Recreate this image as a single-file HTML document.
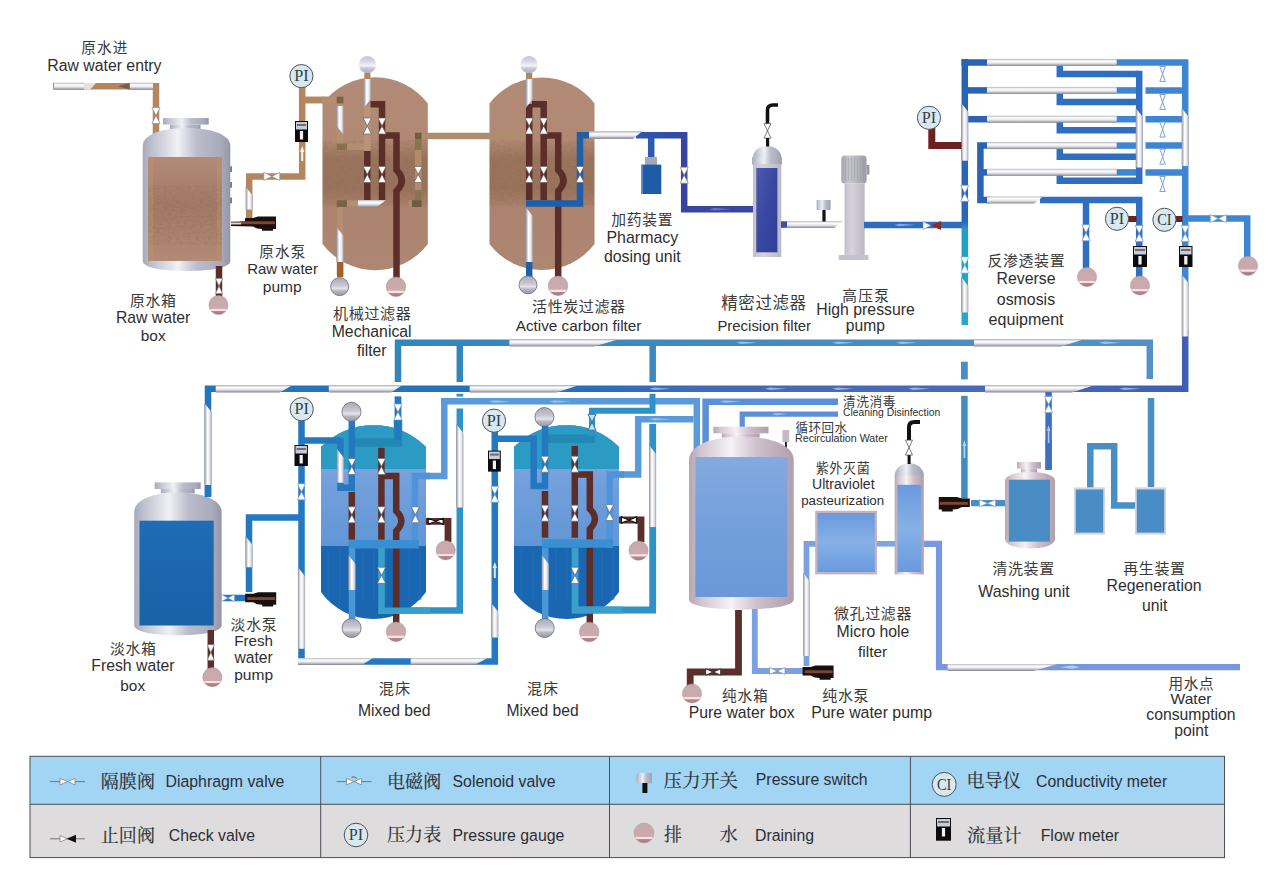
<!DOCTYPE html>
<html><head><meta charset="utf-8"><title>Water treatment process</title>
<style>html,body{margin:0;padding:0;background:#fff}svg{display:block}text{font-family:"Liberation Sans",sans-serif}text.sf{font-family:"Liberation Serif",serif}text.cj{font-family:"Liberation Sans","Noto Sans CJK SC",sans-serif}text.cs{font-family:"Liberation Serif","Noto Serif CJK SC",serif}</style></head>
<body><svg width="1269" height="887" viewBox="0 0 1269 887">
<defs>

<linearGradient id="sh" x1="0" y1="0" x2="0" y2="1"><stop offset="0" stop-color="#b4b4be"/><stop offset="0.3" stop-color="#ffffff"/><stop offset="0.6" stop-color="#e6e6ea"/><stop offset="1" stop-color="#85858f"/></linearGradient>
<linearGradient id="sv" x1="0" y1="0" x2="1" y2="0"><stop offset="0" stop-color="#8e8e9a"/><stop offset="0.4" stop-color="#ffffff"/><stop offset="0.7" stop-color="#ececf0"/><stop offset="1" stop-color="#a4a4ae"/></linearGradient>
<linearGradient id="bp" x1="0" y1="0" x2="0" y2="1"><stop offset="0" stop-color="#c6aaae"/><stop offset="0.68" stop-color="#cda9ad"/><stop offset="0.71" stop-color="#f6e4e4"/><stop offset="0.79" stop-color="#f6e4e4"/><stop offset="0.82" stop-color="#b98890"/><stop offset="1" stop-color="#a8747c"/></linearGradient>
<linearGradient id="bg" x1="0" y1="0" x2="0" y2="1"><stop offset="0" stop-color="#a9a9b6"/><stop offset="0.45" stop-color="#c9c9d4"/><stop offset="0.6" stop-color="#e4e4ea"/><stop offset="0.75" stop-color="#b5b5c0"/><stop offset="1" stop-color="#9a9aa8"/></linearGradient>
<linearGradient id="bt" x1="0" y1="0" x2="0" y2="1"><stop offset="0" stop-color="#c4c4d2"/><stop offset="0.35" stop-color="#dcdce6"/><stop offset="0.55" stop-color="#f2f2f6"/><stop offset="0.75" stop-color="#c2c2d0"/><stop offset="1" stop-color="#b0b0c0"/></linearGradient>
<linearGradient id="metal" x1="0" y1="0" x2="1" y2="0"><stop offset="0" stop-color="#a6aabc"/><stop offset="0.12" stop-color="#c0c3d0"/><stop offset="0.4" stop-color="#f0f0f5"/><stop offset="0.62" stop-color="#bcbccb"/><stop offset="0.9" stop-color="#a8aaba"/><stop offset="1" stop-color="#9496a8"/></linearGradient>
<linearGradient id="motor" x1="0" y1="0" x2="1" y2="0"><stop offset="0" stop-color="#a4a4ae"/><stop offset="0.3" stop-color="#c6c6ce"/><stop offset="0.6" stop-color="#b8b8c0"/><stop offset="1" stop-color="#9c9ca6"/></linearGradient>
<linearGradient id="metalf" x1="0" y1="0" x2="1" y2="0"><stop offset="0" stop-color="#c2bfcb"/><stop offset="0.35" stop-color="#d6d3dd"/><stop offset="1" stop-color="#bcb8c5"/></linearGradient>
<linearGradient id="pfb" x1="0" y1="0" x2="1" y2="1"><stop offset="0" stop-color="#4a5aac"/><stop offset="0.5" stop-color="#3848a0"/><stop offset="1" stop-color="#303e98"/></linearGradient>
<linearGradient id="metalp" x1="0" y1="0" x2="1" y2="0"><stop offset="0" stop-color="#b6a6b2"/><stop offset="0.12" stop-color="#d2c6d0"/><stop offset="0.4" stop-color="#f6f2f6"/><stop offset="0.65" stop-color="#cdc0cc"/><stop offset="1" stop-color="#b09eac"/></linearGradient>
<linearGradient id="brownv" x1="0" y1="0" x2="0" y2="1"><stop offset="0" stop-color="#b28b78"/><stop offset="0.33" stop-color="#b08873"/><stop offset="0.42" stop-color="#9a745e"/><stop offset="0.58" stop-color="#99735d"/><stop offset="0.68" stop-color="#ab836e"/><stop offset="1" stop-color="#ae8772"/></linearGradient>
<linearGradient id="brownt" x1="0" y1="0" x2="0" y2="1"><stop offset="0" stop-color="#b38a78"/><stop offset="0.45" stop-color="#a27a68"/><stop offset="0.6" stop-color="#a67e6a"/><stop offset="1" stop-color="#b28a76"/></linearGradient>
<linearGradient id="fresh" x1="0" y1="0" x2="0" y2="1"><stop offset="0" stop-color="#1f6db6"/><stop offset="0.5" stop-color="#1b66ae"/><stop offset="1" stop-color="#1a62a8"/></linearGradient>
<linearGradient id="pure" x1="0" y1="0" x2="0" y2="1"><stop offset="0" stop-color="#84aadf"/><stop offset="0.5" stop-color="#739fdb"/><stop offset="1" stop-color="#6a98d8"/></linearGradient>
<linearGradient id="uv" x1="0" y1="0" x2="0" y2="1"><stop offset="0" stop-color="#6a9ade"/><stop offset="0.5" stop-color="#86b0e6"/><stop offset="1" stop-color="#6a9ade"/></linearGradient>
<linearGradient id="l2" gradientUnits="userSpaceOnUse" x1="205" y1="0" x2="1190" y2="0"><stop offset="0" stop-color="#2274bc"/><stop offset="0.4" stop-color="#2a6eba"/><stop offset="0.5" stop-color="#4269ba"/><stop offset="0.8" stop-color="#4a68bc"/><stop offset="1" stop-color="#3e5eb4"/></linearGradient>
<linearGradient id="l1" gradientUnits="userSpaceOnUse" x1="395" y1="0" x2="1153" y2="0"><stop offset="0" stop-color="#3286bc"/><stop offset="0.5" stop-color="#468abf"/><stop offset="1" stop-color="#5590c6"/></linearGradient>
<linearGradient id="navy" gradientUnits="userSpaceOnUse" x1="642" y1="132" x2="753" y2="212"><stop offset="0" stop-color="#2a58ae"/><stop offset="0.35" stop-color="#38449f"/><stop offset="1" stop-color="#3c46a2"/></linearGradient>
<linearGradient id="rofeed" gradientUnits="userSpaceOnUse" x1="0" y1="59" x2="0" y2="330"><stop offset="0" stop-color="#2a62b4"/><stop offset="0.6" stop-color="#2a66b8"/><stop offset="0.63" stop-color="#1fa0c6"/><stop offset="1" stop-color="#27a8cc"/></linearGradient>
<linearGradient id="mbmid" x1="0" y1="0" x2="0" y2="1"><stop offset="0" stop-color="#88acdf"/><stop offset="0.5" stop-color="#729fdb"/><stop offset="1" stop-color="#6196d6"/></linearGradient>
<filter id="tex" x="0" y="0" width="1" height="1"><feTurbulence type="fractalNoise" baseFrequency="0.25 0.5" numOctaves="2" seed="3"/><feColorMatrix values="0 0 0 0 0.25  0 0 0 0 0.12  0 0 0 0 0.05  0.9 0 0 0 -0.32"/><feComposite in2="SourceGraphic" operator="in"/></filter>

</defs>
<rect width="1269" height="887" fill="#fff"/>
<polyline points="398.0,382.0 398.0,342.8 1149.8,342.8 1149.8,379.0" fill="none" stroke="url(#l1)" stroke-width="6.5" />
<polyline points="459.8,342.0 459.8,382.0" fill="none" stroke="#3286bc" stroke-width="6.5" />
<polyline points="652.7,342.0 652.7,382.0" fill="none" stroke="#3a88be" stroke-width="6.5" />
<polygon points="509.4,339.2 618.5,339.2 594.5,346.4 509.4,346.4" fill="url(#sh)"/>
<polygon points="974.0,339.2 1084.0,339.2 1061.0,346.4 974.0,346.4" fill="url(#sh)"/>
<polyline points="208.0,496.0 208.0,388.8 1185.2,388.8 1185.2,330.0" fill="none" stroke="url(#l2)" stroke-width="6.5" />
<polygon points="215.7,385.2 292.0,385.2 280.0,392.4 215.7,392.4" fill="url(#sh)"/>
<polygon points="328.8,385.2 402.0,385.2 391.0,392.4 328.8,392.4" fill="url(#sh)"/>
<polygon points="469.7,385.2 578.5,385.2 556.5,392.4 469.7,392.4" fill="url(#sh)"/>
<polygon points="985.0,385.2 1094.0,385.2 1072.0,392.4 985.0,392.4" fill="url(#sh)"/>
<polygon points="204.4,403.0 211.6,412.0 211.6,485.0 204.4,485.0" fill="url(#sv)"/>
<polyline points="398.0,396.6 398.0,446.0" fill="none" stroke="#2478c0" stroke-width="6.5" />
<rect x="456.5" y="393.8" width="6.7" height="2.8" fill="#2f92c6" />
<polyline points="459.8,408.6 459.8,610.5 381.5,610.5 381.5,548.0" fill="none" stroke="#2f92c6" stroke-width="6.5" />
<polygon points="456.2,424.0 463.4,433.0 463.4,507.4 456.2,507.4" fill="url(#sv)"/>
<rect x="961.0" y="361.7" width="6.8" height="17.7" fill="#4a8cc8" />
<polyline points="964.4,395.8 964.4,498.7" fill="none" stroke="#418dc2" stroke-width="6.5" />
<polyline points="1151.0,398.0 1151.0,487.0" fill="none" stroke="#4a8fc4" stroke-width="6.5" />
<polyline points="1048.6,392.0 1048.6,469.6" fill="none" stroke="#3f6fc0" stroke-width="6.5" />
<path d="M1044.5,396.6 L1052.7,396.6 L1048.6,404.6 Z M1044.5,412.6 L1052.7,412.6 L1048.6,404.6 Z" fill="#fff" stroke="#7aa0d0" stroke-width="0.7"/>
<polyline points="415.0,548.0 415.0,476.0 444.3,476.0 444.3,401.3 696.8,401.3 696.8,456.0" fill="none" stroke="#5a9ad8" stroke-width="6.5" />
<polyline points="609.8,548.0 609.8,474.5 638.2,474.5 638.2,419.3 693.5,419.3" fill="none" stroke="#5a9ad8" stroke-width="6.5" />
<polyline points="705.6,447.0 705.6,401.8 838.0,401.8" fill="none" stroke="#5b8fd8" stroke-width="6.5" />
<polyline points="742.2,428.0 742.2,414.1 838.0,414.1" fill="none" stroke="#5b8fd8" stroke-width="5.2" />
<polyline points="53.0,86.2 156.0,86.2 156.0,136.0" fill="none" stroke="#b4865e" stroke-width="6.5" />
<rect x="54.0" y="82.7" width="30.0" height="7.1" fill="url(#sh)" />
<rect x="129.6" y="82.7" width="23.4" height="7.1" fill="url(#sh)" />
<polygon points="84,83 96,83 90,89.4 84,89.4" fill="#e8e0dc"/><polygon points="118,86.2 129.6,83 129.6,89.4" fill="#7a5a48"/>
<path d="M151.9,107.6 L160.1,107.6 L156.0,115.6 Z M151.9,123.6 L160.1,123.6 L156.0,115.6 Z" fill="#fff" stroke="#8a8a8a" stroke-width="0.7"/>
<rect x="226.0" y="166.3" width="6.0" height="5.7" fill="#7a7a84" />
<rect x="226.0" y="182.0" width="6.0" height="5.7" fill="#7a7a84" />
<rect x="226.0" y="197.5" width="6.0" height="5.7" fill="#7a7a84" />
<rect x="163.0" y="118.0" width="45.7" height="6.6" fill="url(#metal)" />
<rect x="170.0" y="124.6" width="30.5" height="4.4" fill="url(#metal)" />
<path d="M142.7,146.0 C142.7,134.3 162.4,128.0 186.5,128.0 C210.6,128.0 230.3,134.3 230.3,146.0 L230.3,261.0 C230.3,268.0 208.4,271.0 186.5,271.0 C164.6,271.0 142.7,268.0 142.7,261.0 Z" fill="url(#metal)"/>
<rect x="148.0" y="157.0" width="74.0" height="104.0" fill="url(#brownt)" />
<rect x="148.0" y="157.0" width="5.0" height="104.0" fill="#c09070" opacity="0.5"/>
<rect x="217.0" y="157.0" width="5.0" height="104.0" fill="#c09070" opacity="0.5"/>
<rect x="148" y="185" width="74" height="60" fill="#5a3020" filter="url(#tex)" opacity="0.6"/>
<polyline points="219.0,266.0 219.0,297.0" fill="none" stroke="#5b2e2a" stroke-width="6.5" />
<path d="M215.5,278.5 L222.5,278.5 L219.0,286.0 Z M215.5,293.5 L222.5,293.5 L219.0,286.0 Z" fill="#fff" stroke="#8a8a8a" stroke-width="0.7"/>
<circle cx="218.5" cy="305.0" r="9.6" fill="url(#bp)" stroke="#a89498" stroke-width="0.5"/>
<polyline points="249.2,218.0 249.2,176.4 302.2,176.4 302.2,87.0" fill="none" stroke="#b4865e" stroke-width="6.5" />
<polygon points="245.6,186.7 252.8,195.7 252.8,209.4 245.6,209.4" fill="url(#sv)"/>
<path d="M263.8,172.3 L263.8,180.5 L271.8,176.4 Z M279.8,172.3 L279.8,180.5 L271.8,176.4 Z" fill="#fff" stroke="#8a8a8a" stroke-width="0.7"/>
<path d="M302.2,146 L304.4,152 L303.2,152 L303.2,161 L301.2,161 L301.2,152 L300,152 Z" fill="#fff" opacity="0.9"/>
<polygon points="231.0,221.8 245.0,221.5 245.0,218.0 253.0,218.0 258.0,216.5 276.0,216.5 276.0,229.0 273.0,229.0 273.0,230.8 262.0,230.8 262.0,229.0 257.0,228.5 253.0,226.5 231.0,226.0" fill="#1a0f0f"/>
<rect x="240.0" y="221.3" width="35.0" height="2.9" fill="#7e4630" />
<rect x="231.0" y="222.5" width="10.0" height="2.0" fill="#e8d8d0" />
<polyline points="302.2,100.0 343.2,100.0" fill="none" stroke="#b4865e" stroke-width="6.5" />
<circle cx="301.4" cy="76.1" r="11.6" fill="#d9e8ef" stroke="#4a545e" stroke-width="1"/>
<text x="301.4" y="81.3" class="sf" font-size="16" text-anchor="middle" fill="#333c44" textLength="14.4" lengthAdjust="spacingAndGlyphs">PI</text>
<rect x="295.0" y="121.0" width="13.0" height="21.0" fill="#0b0b0f" />
<rect x="296.0" y="122.0" width="11.0" height="7.5" fill="#c9ccd2" />
<rect x="297.0" y="124.0" width="9.0" height="2.0" fill="#6a6e78" />
<rect x="299.9" y="131.0" width="3.2" height="8.5" fill="#f2f2f2" />
<path d="M322.5,103.5 A66,66 0 0 1 427.8,103.5 L427.8,244 A66,66 0 0 1 322.5,244 Z" fill="url(#brownv)"/>
<rect x="322.5" y="140" width="105.30000000000001" height="65" fill="#4a2818" filter="url(#tex)" opacity="0.55"/>
<path d="M489.5,103.5 A66,66 0 0 1 594.5,103.5 L594.5,244 A66,66 0 0 1 489.5,244 Z" fill="url(#brownv)"/>
<rect x="489.5" y="140" width="105.0" height="65" fill="#4a2818" filter="url(#tex)" opacity="0.55"/>
<polyline points="302.0,100.0 325.0,100.0" fill="none" stroke="#b4865e" stroke-width="6.5" />
<polyline points="322.0,100.0 340.0,100.0 340.0,146.8 370.6,146.8" fill="none" stroke="#b48d72" stroke-width="6.5" />
<rect x="336.7" y="96.7" width="6.7" height="6.6" fill="#7a6248" />
<rect x="336.7" y="143.5" width="10.3" height="6.5" fill="#8a7050" />
<polygon points="336.4,106.0 343.6,106.0 343.6,134.7 336.4,125.7" fill="url(#sv)"/>
<polyline points="367.3,107.0 367.3,151.0" fill="none" stroke="#b89478" stroke-width="6.5" />
<circle cx="367.5" cy="64.7" r="8.6" fill="url(#bt)"/>
<rect x="364.3" y="73.0" width="6.1" height="6.0" fill="#b4865e" />
<polygon points="363.8,79.0 370.9,79.0 370.9,99.0 363.8,108.0" fill="url(#sv)"/>
<polyline points="367.3,151.0 367.3,200.0" fill="none" stroke="#5b2e2a" stroke-width="6.5" />
<polyline points="370.6,104.2 382.0,104.2 382.0,200.0" fill="none" stroke="#5b2e2a" stroke-width="6.5" />
<path d="M382,135.5 H396.5 V170 Q407,180.5 396.5,191 V278" fill="none" stroke="#5b2e2a" stroke-width="6.5"/>
<polyline points="340.0,275.0 340.0,203.5 358.0,203.5" fill="none" stroke="#b48d72" stroke-width="6.5" />
<rect x="336.7" y="200.2" width="10.3" height="6.8" fill="#7a6248" />
<polygon points="358.0,199.9 386.0,199.9 377.0,207.1 358.0,207.1" fill="url(#sh)"/>
<polygon points="336.4,227.0 343.6,236.0 343.6,262.0 336.4,262.0" fill="url(#sv)"/>
<rect x="337.0" y="262.0" width="6.3" height="15.0" fill="#a0622c" />
<polyline points="526.0,136.0 418.2,136.0 418.2,203.5 408.7,203.5" fill="none" stroke="#b08c6e" stroke-width="6.5" />
<rect x="415.0" y="132.7" width="6.5" height="6.6" fill="#6e5c40" />
<rect x="412.0" y="200.2" width="9.5" height="6.8" fill="#6e5c40" />
<rect x="415.0" y="139.3" width="6.5" height="10.7" fill="#8a744e" />
<rect x="415.0" y="190.0" width="6.5" height="10.2" fill="#8a744e" />
<path d="M363.2,118.0 L371.4,118.0 L367.3,126.0 Z M363.2,134.0 L371.4,134.0 L367.3,126.0 Z" fill="#fff" stroke="#6a5a50" stroke-width="0.7"/>
<path d="M377.9,118.0 L386.1,118.0 L382.0,126.0 Z M377.9,134.0 L386.1,134.0 L382.0,126.0 Z" fill="#fff" stroke="#6a5a50" stroke-width="0.7"/>
<path d="M363.2,166.4 L371.4,166.4 L367.3,174.4 Z M363.2,182.4 L371.4,182.4 L367.3,174.4 Z" fill="#fff" stroke="#6a5a50" stroke-width="0.7"/>
<path d="M377.9,166.4 L386.1,166.4 L382.0,174.4 Z M377.9,182.4 L386.1,182.4 L382.0,174.4 Z" fill="#fff" stroke="#6a5a50" stroke-width="0.7"/>
<path d="M414.1,166.4 L422.3,166.4 L418.2,174.4 Z M414.1,182.4 L422.3,182.4 L418.2,174.4 Z" fill="#fff" stroke="#6a5a50" stroke-width="0.7"/>
<circle cx="339.7" cy="286.6" r="9" fill="url(#bg)" stroke="#6a6a78" stroke-width="0.8"/>
<circle cx="396.0" cy="286.8" r="9.8" fill="url(#bp)" stroke="#a89498" stroke-width="0.5"/>
<circle cx="529.0" cy="64.7" r="8.6" fill="url(#bt)"/>
<rect x="526.0" y="73.0" width="6.3" height="6.0" fill="#b4865e" />
<polyline points="529.2,104.0 529.2,200.0" fill="none" stroke="#5b2e2a" stroke-width="6.5" />
<polygon points="525.7,79.0 532.8,79.0 532.8,99.0 525.7,108.0" fill="url(#sv)"/>
<polyline points="532.0,104.2 543.7,104.2 543.7,200.0" fill="none" stroke="#5b2e2a" stroke-width="6.5" />
<path d="M543.7,135.5 H558.2 V170 Q568.7,180.5 558.2,191 V278" fill="none" stroke="#5b2e2a" stroke-width="6.5"/>
<polyline points="526.0,203.5 580.0,203.5 580.0,135.3 590.0,135.3" fill="none" stroke="#1f5ea8" stroke-width="6.5" />
<polygon points="525.7,207.0 532.8,216.0 532.8,262.0 525.7,262.0" fill="url(#sv)"/>
<rect x="526.0" y="262.0" width="6.4" height="15.0" fill="#1f5ea8" />
<path d="M525.1,118.0 L533.3,118.0 L529.2,126.0 Z M525.1,134.0 L533.3,134.0 L529.2,126.0 Z" fill="#fff" stroke="#6a5a50" stroke-width="0.7"/>
<path d="M539.6,118.0 L547.8,118.0 L543.7,126.0 Z M539.6,134.0 L547.8,134.0 L543.7,126.0 Z" fill="#fff" stroke="#6a5a50" stroke-width="0.7"/>
<path d="M525.1,166.4 L533.3,166.4 L529.2,174.4 Z M525.1,182.4 L533.3,182.4 L529.2,174.4 Z" fill="#fff" stroke="#6a5a50" stroke-width="0.7"/>
<path d="M539.6,166.4 L547.8,166.4 L543.7,174.4 Z M539.6,182.4 L547.8,182.4 L543.7,174.4 Z" fill="#fff" stroke="#6a5a50" stroke-width="0.7"/>
<path d="M575.9,166.4 L584.1,166.4 L580.0,174.4 Z M575.9,182.4 L584.1,182.4 L580.0,174.4 Z" fill="#fff" stroke="#6a5a50" stroke-width="0.7"/>
<circle cx="528.0" cy="284.8" r="9" fill="url(#bg)" stroke="#6a6a78" stroke-width="0.8"/>
<circle cx="558.0" cy="285.8" r="9.8" fill="url(#bp)" stroke="#a89498" stroke-width="0.5"/>
<polygon points="589.0,131.6 642.0,131.6 633.0,138.8 589.0,138.8" fill="url(#sh)"/>
<polyline points="636.0,135.2 684.2,135.2 684.2,209.2 754.0,209.2" fill="none" stroke="url(#navy)" stroke-width="6.5" />
<polygon points="589.0,131.6 642.0,131.6 633.0,138.8 589.0,138.8" fill="url(#sh)"/>
<polyline points="651.2,138.0 651.2,158.0" fill="none" stroke="#2a5cb0" stroke-width="6.5" />
<rect x="645.0" y="157.0" width="12.0" height="8.0" fill="#a8a8b4" />
<rect x="641.4" y="164.6" width="19.9" height="29.4" fill="#1f5ca8" />
<rect x="641.4" y="164.6" width="1.6" height="29.4" fill="#5a8ac8" />
<path d="M680.1,167.2 L688.3,167.2 L684.2,175.2 Z M680.1,183.2 L688.3,183.2 L684.2,175.2 Z" fill="#fff" stroke="#8a8a8a" stroke-width="0.7"/>
<path d="M753,158 C753,150 760,146 767,146 C774,146 781.3,150 781.3,158 Z" fill="url(#metal)"/>
<rect x="752.0" y="157.3" width="29.8" height="7.2" fill="url(#metal)" />
<rect x="753.0" y="164.0" width="28.3" height="93.0" fill="url(#metalf)" />
<rect x="756.3" y="168.0" width="21.1" height="84.3" fill="url(#pfb)" />
<path d="M767.5,124 L767.5,110 Q767.5,105 773,105 L778,105" fill="none" stroke="#111" stroke-width="3.6"/>
<rect x="766.0" y="138.0" width="3.2" height="8.5" fill="#111" />
<path d="M764.0,123.6 L771.0,123.6 L767.5,130.8 Z M764.0,138.1 L771.0,138.1 L767.5,130.8 Z" fill="#fff" stroke="#444" stroke-width="0.7"/>
<rect x="781.0" y="221.3" width="7.0" height="6.5" fill="#3a50a8" />
<polygon points="787.0,220.9 843.0,220.9 834.0,228.1 787.0,228.1" fill="url(#sh)"/>
<rect x="822.4" y="209.0" width="3.2" height="12.5" fill="#111" />
<rect x="816.6" y="200.0" width="13.9" height="10.0" fill="url(#metal)" />
<rect x="841.3" y="155.4" width="25.3" height="28.0" fill="url(#motor)" rx="3.5"/>
<rect x="866.6" y="165.0" width="2.8" height="9.6" fill="#9a9aa4" />
<rect x="844.5" y="183.4" width="20.2" height="72.6" fill="url(#metalf)" />
<rect x="838.8" y="255.0" width="29.7" height="5.0" fill="#c4c0cc" />
<rect x="845.0" y="158.0" width="0.7" height="23.0" fill="#8c8c96" opacity="0.45"/>
<rect x="848.0" y="158.0" width="0.7" height="23.0" fill="#8c8c96" opacity="0.45"/>
<rect x="851.0" y="158.0" width="0.7" height="23.0" fill="#8c8c96" opacity="0.45"/>
<rect x="854.0" y="158.0" width="0.7" height="23.0" fill="#8c8c96" opacity="0.45"/>
<rect x="857.0" y="158.0" width="0.7" height="23.0" fill="#8c8c96" opacity="0.45"/>
<rect x="860.0" y="158.0" width="0.7" height="23.0" fill="#8c8c96" opacity="0.45"/>
<rect x="863.0" y="158.0" width="0.7" height="23.0" fill="#8c8c96" opacity="0.45"/>
<polyline points="864.0,225.0 962.0,225.0" fill="none" stroke="#2f6cc0" stroke-width="6.5" />
<polygon points="923,221.5 923,229.5 931,225.5" fill="#fff" stroke="#888" stroke-width="0.6"/><polygon points="941,221 941,230 931,225.5" fill="#8a2a2a"/>
<polyline points="964.8,330.0 964.8,62.4 1185.2,62.4 1185.2,335.0" fill="none" stroke="none" stroke-width="6.5" />
<polyline points="1116.0,62.4 1185.2,62.4 1185.2,286.0" fill="none" stroke="#3f86d2" stroke-width="6.5" />
<polyline points="1116.0,90.4 1137.0,90.4" fill="none" stroke="#3f86d2" stroke-width="6.5" />
<polyline points="1145.5,90.4 1183.0,90.4" fill="none" stroke="#3f86d2" stroke-width="6.5" />
<polyline points="1116.0,119.2 1137.0,119.2" fill="none" stroke="#3f86d2" stroke-width="6.5" />
<polyline points="1145.5,119.2 1183.0,119.2" fill="none" stroke="#3f86d2" stroke-width="6.5" />
<polyline points="1116.0,145.6 1137.0,145.6" fill="none" stroke="#3f86d2" stroke-width="6.5" />
<polyline points="1145.5,145.6 1183.0,145.6" fill="none" stroke="#3f86d2" stroke-width="6.5" />
<polyline points="1116.0,172.4 1137.0,172.4" fill="none" stroke="#3f86d2" stroke-width="6.5" />
<polyline points="1145.5,172.4 1183.0,172.4" fill="none" stroke="#3f86d2" stroke-width="6.5" />
<polyline points="964.8,325.0 964.8,62.4 990.0,62.4" fill="none" stroke="url(#rofeed)" stroke-width="6.5" />
<rect x="961.5" y="59.1" width="6.5" height="6.9" fill="#2a62b4" />
<polyline points="968.0,90.4 990.0,90.4" fill="none" stroke="#2b62b4" stroke-width="6.5" />
<polyline points="968.0,119.2 990.0,119.2" fill="none" stroke="#2b62b4" stroke-width="6.5" />
<polyline points="990.0,145.6 980.4,145.6 980.4,200.0 990.0,200.0" fill="none" stroke="#2b62b4" stroke-width="6.5" />
<polyline points="980.4,172.4 990.0,172.4" fill="none" stroke="#2b62b4" stroke-width="6.5" />
<polyline points="1059.8,62.4 1059.8,74.1 1139.2,74.1" fill="none" stroke="#2f6ec0" stroke-width="6.5" />
<polyline points="1059.8,90.4 1059.8,101.9 1139.2,101.9" fill="none" stroke="#2f6ec0" stroke-width="6.5" />
<polyline points="1059.8,119.2 1059.8,130.2 1139.2,130.2" fill="none" stroke="#2f6ec0" stroke-width="6.5" />
<polyline points="1059.8,145.6 1059.8,156.8 1139.2,156.8" fill="none" stroke="#2f6ec0" stroke-width="6.5" />
<polyline points="1059.8,172.4 1059.8,180.8 1139.2,180.8" fill="none" stroke="#2f6ec0" stroke-width="6.5" />
<polyline points="1139.2,70.8 1139.2,184.0" fill="none" stroke="#2f6ec0" stroke-width="6.5" />
<polyline points="1040.0,200.0 1139.2,200.0 1139.2,278.0" fill="none" stroke="#2f6ec0" stroke-width="6.5" />
<polyline points="1086.0,203.0 1086.0,268.0" fill="none" stroke="#2f6ec0" stroke-width="6.5" />
<rect x="987.0" y="58.9" width="129.7" height="7.1" fill="url(#sh)" />
<rect x="987.0" y="86.9" width="129.7" height="7.1" fill="url(#sh)" />
<rect x="987.0" y="115.7" width="129.7" height="7.1" fill="url(#sh)" />
<rect x="987.0" y="142.0" width="129.7" height="7.1" fill="url(#sh)" />
<rect x="987.0" y="168.8" width="129.7" height="7.1" fill="url(#sh)" />
<polygon points="987.0,196.4 1043.0,196.4 1034.0,203.6 987.0,203.6" fill="url(#sh)"/>
<polygon points="961.2,103.0 968.3,112.0 968.3,160.7 961.2,160.7" fill="url(#sv)"/>
<polygon points="1135.7,108.0 1142.8,117.0 1142.8,167.5 1135.7,167.5" fill="url(#sv)"/>
<polygon points="1181.7,108.0 1188.8,117.0 1188.8,166.0 1181.7,166.0" fill="url(#sv)"/>
<polygon points="961.2,277.0 968.3,286.0 968.3,312.5 961.2,312.5" fill="url(#sv)"/>
<polygon points="1181.7,274.6 1188.8,283.6 1188.8,336.5 1181.7,336.5" fill="url(#sv)"/>
<path d="M1159.8,66.5 L1165.3,66.5 L1162.6,74.0 Z M1159.8,81.5 L1165.3,81.5 L1162.6,74.0 Z" fill="#f4f8fc" stroke="#7a9ac8" stroke-width="0.9"/>
<path d="M1159.8,94.5 L1165.3,94.5 L1162.6,102.0 Z M1159.8,109.5 L1165.3,109.5 L1162.6,102.0 Z" fill="#f4f8fc" stroke="#7a9ac8" stroke-width="0.9"/>
<path d="M1159.8,122.1 L1165.3,122.1 L1162.6,129.6 Z M1159.8,137.1 L1165.3,137.1 L1162.6,129.6 Z" fill="#f4f8fc" stroke="#7a9ac8" stroke-width="0.9"/>
<path d="M1159.8,149.2 L1165.3,149.2 L1162.6,156.7 Z M1159.8,164.2 L1165.3,164.2 L1162.6,156.7 Z" fill="#f4f8fc" stroke="#7a9ac8" stroke-width="0.9"/>
<path d="M1159.8,176.5 L1165.3,176.5 L1162.6,184.0 Z M1159.8,191.5 L1165.3,191.5 L1162.6,184.0 Z" fill="#f4f8fc" stroke="#7a9ac8" stroke-width="0.9"/>
<polyline points="931.8,128.0 931.8,145.6 961.5,145.6" fill="none" stroke="#6c2020" stroke-width="7" />
<circle cx="929.0" cy="117.8" r="11.6" fill="#d9e8ef" stroke="#4a545e" stroke-width="1"/>
<text x="929.0" y="123.0" class="sf" font-size="16" text-anchor="middle" fill="#333c44" textLength="14.4" lengthAdjust="spacingAndGlyphs">PI</text>
<path d="M960.7,185.3 L968.9,185.3 L964.8,193.3 Z M960.7,201.3 L968.9,201.3 L964.8,193.3 Z" fill="#fff" stroke="#7a9ac8" stroke-width="0.7"/>
<path d="M960.7,257.0 L968.9,257.0 L964.8,265.0 Z M960.7,273.0 L968.9,273.0 L964.8,265.0 Z" fill="#fff" stroke="#7ac0d8" stroke-width="0.7"/>
<rect x="1128.0" y="216.0" width="8.5" height="6.0" fill="#6c2020" />
<circle cx="1117.0" cy="218.8" r="11.6" fill="#d9e8ef" stroke="#4a545e" stroke-width="1"/>
<text x="1117.0" y="224.0" class="sf" font-size="16" text-anchor="middle" fill="#333c44" textLength="14.4" lengthAdjust="spacingAndGlyphs">PI</text>
<rect x="1175.5" y="216.0" width="7.0" height="6.0" fill="#6c2020" />
<circle cx="1164.4" cy="219.8" r="11.6" fill="#d9e8ef" stroke="#4a545e" stroke-width="1"/>
<text x="1164.4" y="225.0" class="sf" font-size="16" text-anchor="middle" fill="#333c44" textLength="14.4" lengthAdjust="spacingAndGlyphs">CI</text>
<polyline points="1188.0,218.6 1247.2,218.6 1247.2,258.0" fill="none" stroke="#3f86d2" stroke-width="6.5" />
<path d="M1210.3,214.5 L1210.3,222.7 L1218.3,218.6 Z M1226.3,214.5 L1226.3,222.7 L1218.3,218.6 Z" fill="#fff" stroke="#7a9ac8" stroke-width="0.7"/>
<path d="M1081.9,224.8 L1090.1,224.8 L1086.0,232.8 Z M1081.9,240.8 L1090.1,240.8 L1086.0,232.8 Z" fill="#fff" stroke="#7a9ac8" stroke-width="0.7"/>
<path d="M1135.1,225.4 L1143.3,225.4 L1139.2,233.4 Z M1135.1,241.4 L1143.3,241.4 L1139.2,233.4 Z" fill="#fff" stroke="#7a9ac8" stroke-width="0.7"/>
<path d="M1181.1,225.4 L1189.3,225.4 L1185.2,233.4 Z M1181.1,241.4 L1189.3,241.4 L1185.2,233.4 Z" fill="#fff" stroke="#7a9ac8" stroke-width="0.7"/>
<rect x="1133.0" y="246.0" width="14.0" height="21.0" fill="#0b0b0f" />
<rect x="1134.0" y="247.0" width="12.0" height="7.5" fill="#c9ccd2" />
<rect x="1135.0" y="249.0" width="10.0" height="2.0" fill="#6a6e78" />
<rect x="1138.4" y="256.0" width="3.2" height="8.5" fill="#f2f2f2" />
<rect x="1179.0" y="246.0" width="13.5" height="21.0" fill="#0b0b0f" />
<rect x="1180.0" y="247.0" width="11.5" height="7.5" fill="#c9ccd2" />
<rect x="1181.0" y="249.0" width="9.5" height="2.0" fill="#6a6e78" />
<rect x="1184.2" y="256.0" width="3.2" height="8.5" fill="#f2f2f2" />
<circle cx="1087.0" cy="277.0" r="9.6" fill="url(#bp)" stroke="#a89498" stroke-width="0.5"/>
<circle cx="1140.0" cy="285.5" r="9.6" fill="url(#bp)" stroke="#a89498" stroke-width="0.5"/>
<circle cx="1248.0" cy="265.8" r="9.6" fill="url(#bp)" stroke="#a89498" stroke-width="0.5"/>
<rect x="154.7" y="482.4" width="46.0" height="6.6" fill="url(#metal)" />
<rect x="160.8" y="489.0" width="33.9" height="4.4" fill="url(#metal)" />
<path d="M134.2,512.0 C134.2,499.3 153.9,492.4 177.9,492.4 C201.9,492.4 221.6,499.3 221.6,512.0 L221.6,625.2 C221.6,632.2 199.8,635.2 177.9,635.2 C156.0,635.2 134.2,632.2 134.2,625.2 Z" fill="url(#metal)"/>
<rect x="139.5" y="520.7" width="74.2" height="104.8" fill="url(#fresh)" />
<polyline points="208.0,486.0 208.0,497.0" fill="none" stroke="#2478c0" stroke-width="6.5" />
<polyline points="223.0,598.0 249.0,598.0" fill="none" stroke="#2478c0" stroke-width="6.5" />
<polyline points="249.0,592.0 249.0,517.4 301.5,517.4" fill="none" stroke="#2478c0" stroke-width="6.5" />
<polygon points="245.4,536.0 252.6,545.0 252.6,567.3 245.4,567.3" fill="url(#sv)"/>
<path d="M221.5,594.5 L221.5,601.5 L228.0,598.0 Z M234.5,594.5 L234.5,601.5 L228.0,598.0 Z" fill="#fff" stroke="#7a9ac8" stroke-width="0.7"/>
<polygon points="245.2,593.8 253.2,593.8 258.2,592.3 276.2,592.3 276.2,604.8 273.2,604.8 273.2,606.6 262.2,606.6 262.2,604.8 257.2,604.3 253.2,602.3 245.2,602.3" fill="#1a0f0f"/>
<rect x="247.2" y="597.1" width="28.0" height="2.9" fill="#7e4630" />
<polyline points="210.8,630.0 210.8,669.0" fill="none" stroke="#5b2e2a" stroke-width="6.5" />
<path d="M207.3,644.8 L214.3,644.8 L210.8,652.5 Z M207.3,660.2 L214.3,660.2 L210.8,652.5 Z" fill="#fff" stroke="#8a8a8a" stroke-width="0.7"/>
<circle cx="212.3" cy="677.2" r="9.6" fill="url(#bp)" stroke="#a89498" stroke-width="0.5"/>
<path d="M321,447 A74,74 0 0 1 426,447 L426,592 A64.5,64.5 0 0 1 321,592 Z" fill="#1a66b0"/>
<path d="M321,447 A74,74 0 0 1 426,447 L426,546 L321,546 Z" fill="url(#mbmid)"/>
<path d="M321,447 A74,74 0 0 1 426,447 L426,469 L321,469 Z" fill="#2b9bc4"/>
<rect x="327.0" y="550.0" width="2.5" height="50.0" fill="#1f70ba" opacity="0.5"/>
<rect x="338.5" y="550.0" width="2.5" height="50.0" fill="#1f70ba" opacity="0.5"/>
<rect x="350.0" y="550.0" width="2.5" height="50.0" fill="#1f70ba" opacity="0.5"/>
<rect x="361.5" y="550.0" width="2.5" height="50.0" fill="#1f70ba" opacity="0.5"/>
<rect x="373.0" y="550.0" width="2.5" height="50.0" fill="#1f70ba" opacity="0.5"/>
<rect x="384.5" y="550.0" width="2.5" height="50.0" fill="#1f70ba" opacity="0.5"/>
<rect x="396.0" y="550.0" width="2.5" height="50.0" fill="#1f70ba" opacity="0.5"/>
<rect x="407.5" y="550.0" width="2.5" height="50.0" fill="#1f70ba" opacity="0.5"/>
<rect x="419.0" y="550.0" width="2.5" height="50.0" fill="#1f70ba" opacity="0.5"/>
<path d="M514,447 A74,74 0 0 1 619,447 L619,592 A64.5,64.5 0 0 1 514,592 Z" fill="#1a66b0"/>
<path d="M514,447 A74,74 0 0 1 619,447 L619,546 L514,546 Z" fill="url(#mbmid)"/>
<path d="M514,447 A74,74 0 0 1 619,447 L619,469 L514,469 Z" fill="#2b9bc4"/>
<rect x="520.0" y="550.0" width="2.5" height="50.0" fill="#1f70ba" opacity="0.5"/>
<rect x="531.5" y="550.0" width="2.5" height="50.0" fill="#1f70ba" opacity="0.5"/>
<rect x="543.0" y="550.0" width="2.5" height="50.0" fill="#1f70ba" opacity="0.5"/>
<rect x="554.5" y="550.0" width="2.5" height="50.0" fill="#1f70ba" opacity="0.5"/>
<rect x="566.0" y="550.0" width="2.5" height="50.0" fill="#1f70ba" opacity="0.5"/>
<rect x="577.5" y="550.0" width="2.5" height="50.0" fill="#1f70ba" opacity="0.5"/>
<rect x="589.0" y="550.0" width="2.5" height="50.0" fill="#1f70ba" opacity="0.5"/>
<rect x="600.5" y="550.0" width="2.5" height="50.0" fill="#1f70ba" opacity="0.5"/>
<rect x="612.0" y="550.0" width="2.5" height="50.0" fill="#1f70ba" opacity="0.5"/>
<polyline points="301.5,421.0 301.5,661.5 494.8,661.5 494.8,432.0" fill="none" stroke="#2478c0" stroke-width="6.5" />
<polyline points="301.5,440.4 340.4,440.4" fill="none" stroke="#2478c0" stroke-width="6.5" />
<polygon points="297.9,567.3 305.1,576.3 305.1,648.8 297.9,648.8" fill="url(#sv)"/>
<polygon points="298.0,657.9 372.8,657.9 361.8,664.9 298.0,664.9" fill="url(#sh)"/>
<polygon points="410.7,657.9 487.5,657.9 474.5,664.9 410.7,664.9" fill="url(#sh)"/>
<polygon points="491.2,603.0 498.4,612.0 498.4,637.4 491.2,637.4" fill="url(#sv)"/>
<path d="M494.8,562 L497,568 L495.8,568 L495.8,578 L493.8,578 L493.8,568 L492.6,568 Z" fill="#dfe8f4"/>
<circle cx="301.7" cy="409.2" r="11.6" fill="#d9e8ef" stroke="#4a545e" stroke-width="1"/>
<text x="301.7" y="414.4" class="sf" font-size="16" text-anchor="middle" fill="#333c44" textLength="14.4" lengthAdjust="spacingAndGlyphs">PI</text>
<rect x="294.5" y="445.0" width="13.4" height="21.0" fill="#0b0b0f" />
<rect x="295.5" y="446.0" width="11.4" height="7.5" fill="#c9ccd2" />
<rect x="296.5" y="448.0" width="9.4" height="2.0" fill="#6a6e78" />
<rect x="299.6" y="455.0" width="3.2" height="8.5" fill="#f2f2f2" />
<path d="M297.4,483.8 L305.6,483.8 L301.5,491.8 Z M297.4,499.8 L305.6,499.8 L301.5,491.8 Z" fill="#fff" stroke="#7a9ac8" stroke-width="0.7"/>
<circle cx="494.0" cy="420.7" r="11.6" fill="#d9e8ef" stroke="#4a545e" stroke-width="1"/>
<text x="494.0" y="425.9" class="sf" font-size="16" text-anchor="middle" fill="#333c44" textLength="14.4" lengthAdjust="spacingAndGlyphs">PI</text>
<rect x="488.0" y="450.6" width="12.8" height="21.0" fill="#0b0b0f" />
<rect x="489.0" y="451.6" width="10.8" height="7.5" fill="#c9ccd2" />
<rect x="490.0" y="453.6" width="8.8" height="2.0" fill="#6a6e78" />
<rect x="492.8" y="460.6" width="3.2" height="8.5" fill="#f2f2f2" />
<path d="M490.7,486.3 L498.9,486.3 L494.8,494.3 Z M490.7,502.3 L498.9,502.3 L494.8,494.3 Z" fill="#fff" stroke="#7a9ac8" stroke-width="0.7"/>
<polyline points="351.8,442.5 398.0,442.5 398.0,420.0" fill="none" stroke="#2389b4" stroke-width="8.5" />
<rect x="394.8" y="396.6" width="6.4" height="43.4" fill="#2478c0" />
<path d="M393.9,404.0 L402.1,404.0 L398.0,412.0 Z M393.9,420.0 L402.1,420.0 L398.0,412.0 Z" fill="#fff" stroke="#7a9ac8" stroke-width="0.7"/>
<circle cx="351.5" cy="411.8" r="9.5" fill="url(#bg)" stroke="#6a6a78" stroke-width="0.8"/>
<polyline points="415.0,548.0 415.0,476.0 430.0,476.0" fill="none" stroke="#4f94da" stroke-width="6.5" />
<polyline points="609.8,548.0 609.8,474.5 624.0,474.5" fill="none" stroke="#4f94da" stroke-width="6.5" />
<polyline points="351.8,421.0 351.8,491.0" fill="none" stroke="#2478c0" stroke-width="6.5" />
<polyline points="340.4,438.0 340.4,487.7 355.0,487.7" fill="none" stroke="#2478c0" stroke-width="6.5" />
<polygon points="336.8,448.7 343.9,457.7 343.9,482.8 336.8,482.8" fill="url(#sv)"/>
<polyline points="351.8,492.0 351.8,539.6" fill="none" stroke="#5b2e2a" stroke-width="6.5" />
<polyline points="381.4,447.8 381.4,539.6" fill="none" stroke="#5b2e2a" stroke-width="6.5" />
<path d="M384,476 H396.2 V511 Q406.5,521 396.2,531 V624" fill="none" stroke="#5b2e2a" stroke-width="6.5"/>
<polyline points="348.8,544.2 418.9,544.2" fill="none" stroke="#3a8fd2" stroke-width="8.4" />
<polyline points="352.0,548.0 352.0,619.0" fill="none" stroke="#4a96d6" stroke-width="6.5" />
<polygon points="348.4,555.0 355.6,564.0 355.6,590.0 348.4,590.0" fill="url(#sv)"/>
<polyline points="381.5,548.0 381.5,610.8 430.0,610.8" fill="none" stroke="#3a9fca" stroke-width="6.6" />
<path d="M347.7,458.5 L355.9,458.5 L351.8,466.5 Z M347.7,474.5 L355.9,474.5 L351.8,466.5 Z" fill="#fff" stroke="#5a6a80" stroke-width="0.7"/>
<path d="M377.3,458.5 L385.5,458.5 L381.4,466.5 Z M377.3,474.5 L385.5,474.5 L381.4,466.5 Z" fill="#fff" stroke="#5a6a80" stroke-width="0.7"/>
<path d="M347.7,506.8 L355.9,506.8 L351.8,514.8 Z M347.7,522.8 L355.9,522.8 L351.8,514.8 Z" fill="#fff" stroke="#5a6a80" stroke-width="0.7"/>
<path d="M377.3,506.8 L385.5,506.8 L381.4,514.8 Z M377.3,522.8 L385.5,522.8 L381.4,514.8 Z" fill="#fff" stroke="#5a6a80" stroke-width="0.7"/>
<path d="M411.3,506.8 L419.5,506.8 L415.4,514.8 Z M411.3,522.8 L419.5,522.8 L415.4,514.8 Z" fill="#fff" stroke="#5a6a80" stroke-width="0.7"/>
<path d="M377.4,567.3 L385.6,567.3 L381.5,575.3 Z M377.4,583.3 L385.6,583.3 L381.5,575.3 Z" fill="#fff" stroke="#5a6a80" stroke-width="0.7"/>
<polyline points="425.8,521.3 448.0,521.3 448.0,542.0" fill="none" stroke="#5b2e2a" stroke-width="6.8" />
<path d="M428.2,518.3 L428.2,524.3 L435.7,521.3 Z M443.2,518.3 L443.2,524.3 L435.7,521.3 Z" fill="#fff" stroke="#111" stroke-width="1.2"/>
<circle cx="445.7" cy="550.3" r="9.6" fill="url(#bp)" stroke="#a89498" stroke-width="0.5"/>
<circle cx="351.6" cy="628.0" r="9.5" fill="url(#bg)" stroke="#6a6a78" stroke-width="0.8"/>
<circle cx="396.0" cy="631.8" r="9.8" fill="url(#bp)" stroke="#a89498" stroke-width="0.5"/>
<polyline points="545.0,438.7 595.2,438.7" fill="none" stroke="#2389b4" stroke-width="8.5" />
<polyline points="592.0,436.0 592.0,410.8 652.5,410.8 652.5,393.8" fill="none" stroke="#2f92c6" stroke-width="6" />
<path d="M587.9,414.2 L596.1,414.2 L592.0,422.2 Z M587.9,430.2 L596.1,430.2 L592.0,422.2 Z" fill="#bfe0ee" stroke="#2f6ea8" stroke-width="1"/>
<circle cx="544.4" cy="417.0" r="9.5" fill="url(#bg)" stroke="#6a6a78" stroke-width="0.8"/>
<polyline points="494.8,438.8 533.7,438.8 533.7,486.1 548.0,486.1" fill="none" stroke="#2478c0" stroke-width="6.5" />
<polyline points="545.0,426.0 545.0,489.0" fill="none" stroke="#2478c0" stroke-width="6.5" />
<polyline points="545.0,491.0 545.0,537.7" fill="none" stroke="#5b2e2a" stroke-width="6.5" />
<polyline points="574.8,445.9 574.8,537.7" fill="none" stroke="#5b2e2a" stroke-width="6.5" />
<path d="M578,474.5 H589.8 V509 Q600,519 589.8,529 V624" fill="none" stroke="#5b2e2a" stroke-width="6.5"/>
<polyline points="541.9,543.5 612.9,543.5" fill="none" stroke="#3a8fd2" stroke-width="8.6" />
<polyline points="545.2,548.0 545.2,619.0" fill="none" stroke="#4a96d6" stroke-width="6.5" />
<polygon points="541.7,555.0 548.8,564.0 548.8,590.0 541.7,590.0" fill="url(#sv)"/>
<polyline points="575.0,610.0 652.7,610.0 652.7,424.0" fill="none" stroke="#2f92c6" stroke-width="6.8" />
<polyline points="575.0,548.0 575.0,610.0 622.0,610.0" fill="none" stroke="#3a9fca" stroke-width="6.8" />
<polygon points="649.0,445.0 656.0,454.0 656.0,527.0 649.0,527.0" fill="url(#sv)"/>
<path d="M540.9,456.2 L549.1,456.2 L545.0,464.2 Z M540.9,472.2 L549.1,472.2 L545.0,464.2 Z" fill="#fff" stroke="#5a6a80" stroke-width="0.7"/>
<path d="M570.7,456.2 L578.9,456.2 L574.8,464.2 Z M570.7,472.2 L578.9,472.2 L574.8,464.2 Z" fill="#fff" stroke="#5a6a80" stroke-width="0.7"/>
<path d="M540.9,505.2 L549.1,505.2 L545.0,513.2 Z M540.9,521.2 L549.1,521.2 L545.0,513.2 Z" fill="#fff" stroke="#5a6a80" stroke-width="0.7"/>
<path d="M570.7,505.2 L578.9,505.2 L574.8,513.2 Z M570.7,521.2 L578.9,521.2 L574.8,513.2 Z" fill="#fff" stroke="#5a6a80" stroke-width="0.7"/>
<path d="M605.5,504.6 L613.7,504.6 L609.6,512.6 Z M605.5,520.6 L613.7,520.6 L609.6,512.6 Z" fill="#fff" stroke="#5a6a80" stroke-width="0.7"/>
<path d="M570.9,567.3 L579.1,567.3 L575.0,575.3 Z M570.9,583.3 L579.1,583.3 L575.0,575.3 Z" fill="#fff" stroke="#5a6a80" stroke-width="0.7"/>
<polyline points="619.0,520.0 641.0,520.0 641.0,542.0" fill="none" stroke="#5b2e2a" stroke-width="6.8" />
<path d="M621.5,517.0 L621.5,523.0 L629.0,520.0 Z M636.5,517.0 L636.5,523.0 L629.0,520.0 Z" fill="#fff" stroke="#111" stroke-width="1.2"/>
<circle cx="638.5" cy="550.6" r="9.6" fill="url(#bp)" stroke="#a89498" stroke-width="0.5"/>
<circle cx="544.7" cy="628.0" r="9.5" fill="url(#bg)" stroke="#6a6a78" stroke-width="0.8"/>
<circle cx="589.2" cy="632.0" r="9.8" fill="url(#bp)" stroke="#a89498" stroke-width="0.5"/>
<rect x="782.4" y="430.0" width="6.8" height="12.0" fill="#c4bcc4" />
<rect x="785.0" y="442.0" width="1.8" height="9.0" fill="#111" />
<rect x="713.4" y="426.7" width="55.1" height="6.6" fill="url(#metalp)" />
<rect x="721.8" y="433.3" width="37.8" height="4.4" fill="url(#metalp)" />
<path d="M689.0,460.0 C689.0,444.9 712.6,436.7 741.4,436.7 C770.1,436.7 793.7,444.9 793.7,460.0 L793.7,599.5 C793.7,606.5 767.5,609.5 741.4,609.5 C715.2,609.5 689.0,606.5 689.0,599.5 Z" fill="url(#metalp)"/>
<rect x="695.3" y="457.0" width="92.1" height="140.0" fill="url(#pure)" />
<polyline points="738.5,610.0 738.5,672.0 690.2,672.0 690.2,687.0" fill="none" stroke="#5b2e2a" stroke-width="6.8" />
<path d="M705.7,668.8 L705.7,675.2 L713.2,672.0 Z M720.7,668.8 L720.7,675.2 L713.2,672.0 Z" fill="#fff" stroke="#333" stroke-width="1"/>
<circle cx="692.0" cy="693.5" r="9.6" fill="url(#bp)" stroke="#a89498" stroke-width="0.5"/>
<polyline points="754.8,609.0 754.8,671.0 804.0,671.0" fill="none" stroke="#7aa2e0" stroke-width="5.8" />
<path d="M769.5,667.5 L769.5,674.5 L777.2,671.0 Z M785.0,667.5 L785.0,674.5 L777.2,671.0 Z" fill="#fff" stroke="#8a8a8a" stroke-width="0.7"/>
<polyline points="806.5,666.0 806.5,543.8 816.0,543.8" fill="none" stroke="#7aa2e0" stroke-width="5.8" />
<polygon points="803.2,572.8 809.8,581.8 809.8,656.0 803.2,656.0" fill="url(#sv)"/>
<polygon points="802.6,667.0 810.6,667.0 815.6,665.5 833.6,665.5 833.6,678.0 830.6,678.0 830.6,679.8 819.6,679.8 819.6,678.0 814.6,677.5 810.6,675.5 802.6,675.5" fill="#1a0f0f"/>
<rect x="804.6" y="670.3" width="28.0" height="2.9" fill="#7e4630" />
<rect x="815.2" y="510.8" width="61.8" height="63.6" fill="#c4b4c0" />
<rect x="817.5" y="513.0" width="57.3" height="59.0" fill="url(#uv)" />
<polyline points="877.0,543.8 895.0,543.8" fill="none" stroke="#7aa6e2" stroke-width="5.6" />
<path d="M894.7,476 C894.7,468 902,463.3 909.2,463.3 C916.5,463.3 923.8,468 923.8,476 Z" fill="url(#metal)"/>
<rect x="894.7" y="475.5" width="29.1" height="8.5" fill="url(#metalp)" />
<rect x="894.7" y="483.5" width="29.1" height="90.9" fill="url(#metalp)" />
<rect x="897.3" y="484.8" width="24.0" height="87.2" fill="url(#uv)" />
<path d="M909,440 L909,427 Q909,422 914.5,422 L920,422" fill="none" stroke="#111" stroke-width="4"/>
<rect x="907.6" y="455.0" width="3.0" height="9.0" fill="#111" />
<path d="M905.5,440.1 L912.5,440.1 L909.0,447.6 Z M905.5,455.1 L912.5,455.1 L909.0,447.6 Z" fill="#fff" stroke="#444" stroke-width="0.7"/>
<polyline points="923.8,543.8 939.0,543.8 939.0,667.2 1240.0,667.2" fill="none" stroke="#7798de" stroke-width="6.2" />
<polygon points="947.6,663.9 1057.4,663.9 1033.4,670.9 947.6,670.9" fill="url(#sh)"/>
<polygon points="1060,667.2 1072,665.6 1080,667.2 1072,668.8" fill="#c8dcf4" opacity="0.8"/>
<polygon points="969.8,498.6 961.8,498.6 956.8,497.1 938.8,497.1 938.8,509.6 941.8,509.6 941.8,511.4 952.8,511.4 952.8,509.6 957.8,509.1 961.8,507.1 969.8,507.1" fill="#1a0f0f"/>
<rect x="939.8" y="501.9" width="28.0" height="2.9" fill="#7e4630" />
<polyline points="971.0,503.2 1006.0,503.2" fill="none" stroke="#4a8fc4" stroke-width="6.2" />
<path d="M979.5,499.7 L979.5,506.7 L987.5,503.2 Z M995.5,499.7 L995.5,506.7 L987.5,503.2 Z" fill="#fff" stroke="#8aa0c0" stroke-width="0.7"/>
<rect x="1017.0" y="462.0" width="24.0" height="6.6" fill="url(#metalp)" />
<rect x="1021.0" y="468.6" width="16.0" height="4.4" fill="url(#metalp)" />
<path d="M1005.0,481.0 C1005.0,475.1 1016.2,472.0 1030.0,472.0 C1043.8,472.0 1055.0,475.1 1055.0,481.0 L1055.0,538.5 C1055.0,545.5 1042.5,548.5 1030.0,548.5 C1017.5,548.5 1005.0,545.5 1005.0,538.5 Z" fill="url(#metalp)"/>
<rect x="1008.8" y="479.7" width="41.2" height="61.9" fill="#4a8cc4" />
<rect x="1045.5" y="440.0" width="6.2" height="30.0" fill="#3f6fc0" />
<path d="M964.4,440 L966.4,446 L965.3,446 L965.3,458 L963.5,458 L963.5,446 L962.4,446 Z" fill="#cfe0f4" opacity="0.8"/>
<path d="M1048.6,425 L1050.4,431 L1049.4,431 L1049.4,443 L1047.8,443 L1047.8,431 L1046.8,431 Z" fill="#cfe0f4" opacity="0.8"/>
<polyline points="1090.3,488.0 1090.3,446.2 1114.2,446.2 1114.2,505.6 1136.0,505.6" fill="none" stroke="#4a8fc4" stroke-width="6.5" />
<rect x="1074.0" y="487.3" width="31.0" height="47.2" fill="#d4d4dc" />
<rect x="1075.8" y="489.5" width="27.4" height="43.1" fill="#4a8dc4" />
<rect x="1135.0" y="487.3" width="31.0" height="47.2" fill="#d4d4dc" />
<rect x="1136.8" y="489.5" width="27.4" height="43.1" fill="#4a8dc4" />
<polygon points="736.0,342.8 741.5,341.5 758.0,342.8 741.5,344.1" fill="#cfe2f6" opacity="0.6"/>
<polygon points="832.4,342.8 837.9,341.5 854.4,342.8 837.9,344.1" fill="#cfe2f6" opacity="0.6"/>
<polygon points="896.0,342.8 901.5,341.5 918.0,342.8 901.5,344.1" fill="#cfe2f6" opacity="0.6"/>
<polygon points="1099.0,342.8 1104.5,341.5 1121.0,342.8 1104.5,344.1" fill="#cfe2f6" opacity="0.6"/>
<polygon points="649.0,388.8 654.5,387.5 671.0,388.8 654.5,390.1" fill="#cfe2f6" opacity="0.6"/>
<polygon points="764.8,388.8 770.3,387.5 786.8,388.8 770.3,390.1" fill="#cfe2f6" opacity="0.6"/>
<polygon points="832.0,388.8 837.5,387.5 854.0,388.8 837.5,390.1" fill="#cfe2f6" opacity="0.6"/>
<polygon points="908.0,388.8 913.5,387.5 930.0,388.8 913.5,390.1" fill="#cfe2f6" opacity="0.6"/>
<polygon points="1119.0,388.8 1124.5,387.5 1141.0,388.8 1124.5,390.1" fill="#cfe2f6" opacity="0.6"/>
<polygon points="489.0,401.6 494.5,400.3 511.0,401.6 494.5,402.9" fill="#cfe2f6" opacity="0.5"/>
<polygon points="549.0,401.6 554.5,400.3 571.0,401.6 554.5,402.9" fill="#cfe2f6" opacity="0.5"/>
<polygon points="719.7,401.6 725.2,400.3 741.7,401.6 725.2,402.9" fill="#cfe2f6" opacity="0.5"/>
<polygon points="649.0,419.3 654.5,418.0 671.0,419.3 654.5,420.6" fill="#cfe2f6" opacity="0.5"/>
<polygon points="772.0,414.1 776.0,412.8 788.0,414.1 776.0,415.4" fill="#cfe2f6" opacity="0.5"/>
<polygon points="894.0,225.0 899.5,223.7 916.0,225.0 899.5,226.3" fill="#bcd4f0" opacity="0.6"/>
<polygon points="709.0,209.2 714.5,207.9 731.0,209.2 714.5,210.5" fill="#9aa4e0" opacity="0.5"/>
<text class="cj" x="81.3" y="53.35" font-size="14.6" fill="#3a3a3a" textLength="46.0" lengthAdjust="spacing">原水进</text>
<text x="47.3" y="70.8" font-size="15.81" fill="#2e2e2e" textLength="114.2" lengthAdjust="spacingAndGlyphs">Raw water entry</text>
<text class="cj" x="130.0" y="306.33" font-size="14.9" fill="#3a3a3a" textLength="46.0" lengthAdjust="spacing">原水箱</text>
<text x="116.0" y="322.9" font-size="15.73" fill="#2e2e2e" textLength="74.3" lengthAdjust="spacingAndGlyphs">Raw water</text>
<text x="140.8" y="340.8" font-size="15.38" fill="#2e2e2e" textLength="24.8" lengthAdjust="spacingAndGlyphs">box</text>
<text class="cj" x="259.3" y="256.85" font-size="14.6" fill="#3a3a3a" textLength="46.1" lengthAdjust="spacing">原水泵</text>
<text x="247.2" y="273.8" font-size="14.97" fill="#2e2e2e" textLength="70.7" lengthAdjust="spacingAndGlyphs">Raw water</text>
<text x="262.8" y="292.2" font-size="15.55" fill="#2e2e2e" textLength="38.9" lengthAdjust="spacingAndGlyphs">pump</text>
<text class="cj" x="333.0" y="319.32" font-size="15.1" fill="#3a3a3a" textLength="77.8" lengthAdjust="spacing">机械过滤器</text>
<text x="331.7" y="336.8" font-size="15.80" fill="#2e2e2e" textLength="79.9" lengthAdjust="spacingAndGlyphs">Mechanical</text>
<text x="356.9" y="355.9" font-size="15.61" fill="#2e2e2e" textLength="29.5" lengthAdjust="spacingAndGlyphs">filter</text>
<text class="cj" x="532.1" y="311.52" font-size="15" fill="#3a3a3a" textLength="92.9" lengthAdjust="spacing">活性炭过滤器</text>
<text x="515.7" y="331.1" font-size="15.28" fill="#2e2e2e" textLength="125.7" lengthAdjust="spacingAndGlyphs">Active carbon filter</text>
<text class="cj" x="611.3" y="224.74" font-size="14.8" fill="#3a3a3a" textLength="61.2" lengthAdjust="spacing">加药装置</text>
<text x="606.5" y="242.5" font-size="15.93" fill="#2e2e2e" textLength="71.7" lengthAdjust="spacingAndGlyphs">Pharmacy</text>
<text x="603.9" y="261.6" font-size="15.86" fill="#2e2e2e" textLength="76.7" lengthAdjust="spacingAndGlyphs">dosing unit</text>
<text class="cj" x="721.2" y="309.23" font-size="16.5" fill="#3a3a3a" textLength="84.9" lengthAdjust="spacing">精密过滤器</text>
<text x="717.4" y="331.2" font-size="14.92" fill="#2e2e2e" textLength="93.7" lengthAdjust="spacingAndGlyphs">Precision filter</text>
<text class="cj" x="842.3" y="300.74" font-size="14.7" fill="#3a3a3a" textLength="46.6" lengthAdjust="spacing">高压泵</text>
<text x="816.3" y="315.2" font-size="15.84" fill="#2e2e2e" textLength="98.6" lengthAdjust="spacingAndGlyphs">High pressure</text>
<text x="845.8" y="331.2" font-size="15.63" fill="#2e2e2e" textLength="39.1" lengthAdjust="spacingAndGlyphs">pump</text>
<text class="cj" x="987.4" y="265.52" font-size="15" fill="#3a3a3a" textLength="77.3" lengthAdjust="spacing">反渗透装置</text>
<text x="996.5" y="283.8" font-size="15.84" fill="#2e2e2e" textLength="59.0" lengthAdjust="spacingAndGlyphs">Reverse</text>
<text x="996.8" y="304.7" font-size="15.90" fill="#2e2e2e" textLength="58.3" lengthAdjust="spacingAndGlyphs">osmosis</text>
<text x="988.6" y="325.1" font-size="16.06" fill="#2e2e2e" textLength="75.0" lengthAdjust="spacingAndGlyphs">equipment</text>
<text class="cj" x="843.1" y="406.18" font-size="12.7" fill="#3a3a3a" textLength="52.3" lengthAdjust="spacing">清洗消毒</text>
<text x="843.0" y="416.1" font-size="10.35" fill="#2e2e2e" textLength="97.2" lengthAdjust="spacingAndGlyphs">Cleaning Disinfection</text>
<text class="cj" x="795.4" y="432.18" font-size="12.6" fill="#3a3a3a" textLength="51.8" lengthAdjust="spacing">循环回水</text>
<text x="795.0" y="441.9" font-size="10.67" fill="#2e2e2e" textLength="92.7" lengthAdjust="spacingAndGlyphs">Recirculation Water</text>
<text class="cj" x="815.7" y="472.75" font-size="13.1" fill="#3a3a3a" textLength="54.1" lengthAdjust="spacing">紫外灭菌</text>
<text x="812.1" y="488.5" font-size="14.06" fill="#2e2e2e" textLength="62.5" lengthAdjust="spacingAndGlyphs">Ultraviolet</text>
<text x="801.2" y="504.7" font-size="13.33" fill="#2e2e2e" textLength="83.0" lengthAdjust="spacingAndGlyphs">pasteurization</text>
<text class="cj" x="110.0" y="653.73" font-size="14.9" fill="#3a3a3a" textLength="46.0" lengthAdjust="spacing">淡水箱</text>
<text x="91.3" y="671.1" font-size="15.78" fill="#2e2e2e" textLength="83.3" lengthAdjust="spacingAndGlyphs">Fresh water</text>
<text x="120.3" y="690.8" font-size="15.38" fill="#2e2e2e" textLength="24.8" lengthAdjust="spacingAndGlyphs">box</text>
<text class="cj" x="230.6" y="630.23" font-size="14.9" fill="#3a3a3a" textLength="46.1" lengthAdjust="spacing">淡水泵</text>
<text x="234.2" y="645.6" font-size="15.22" fill="#2e2e2e" textLength="38.9" lengthAdjust="spacingAndGlyphs">Fresh</text>
<text x="234.5" y="663.0" font-size="15.62" fill="#2e2e2e" textLength="38.2" lengthAdjust="spacingAndGlyphs">water</text>
<text x="234.2" y="680.3" font-size="15.55" fill="#2e2e2e" textLength="38.9" lengthAdjust="spacingAndGlyphs">pump</text>
<text class="cj" x="378.8" y="694.31" font-size="15.2" fill="#3a3a3a" textLength="31.3" lengthAdjust="spacing">混床</text>
<text x="358.0" y="716.2" font-size="15.74" fill="#2e2e2e" textLength="72.6" lengthAdjust="spacingAndGlyphs">Mixed bed</text>
<text class="cj" x="527.1" y="694.32" font-size="15.1" fill="#3a3a3a" textLength="31.1" lengthAdjust="spacing">混床</text>
<text x="506.4" y="716.2" font-size="15.67" fill="#2e2e2e" textLength="72.3" lengthAdjust="spacingAndGlyphs">Mixed bed</text>
<text class="cj" x="722.1" y="700.64" font-size="14.7" fill="#3a3a3a" textLength="45.5" lengthAdjust="spacing">纯水箱</text>
<text x="688.8" y="718.0" font-size="15.75" fill="#2e2e2e" textLength="105.9" lengthAdjust="spacingAndGlyphs">Pure water box</text>
<text class="cj" x="822.3" y="700.83" font-size="15" fill="#3a3a3a" textLength="46.3" lengthAdjust="spacing">纯水泵</text>
<text x="811.2" y="718.4" font-size="15.88" fill="#2e2e2e" textLength="120.9" lengthAdjust="spacingAndGlyphs">Pure water pump</text>
<text class="cj" x="834.0" y="618.82" font-size="15" fill="#3a3a3a" textLength="77.5" lengthAdjust="spacing">微孔过滤器</text>
<text x="836.6" y="636.8" font-size="15.78" fill="#2e2e2e" textLength="72.8" lengthAdjust="spacingAndGlyphs">Micro hole</text>
<text x="858.0" y="656.9" font-size="15.51" fill="#2e2e2e" textLength="29.3" lengthAdjust="spacingAndGlyphs">filter</text>
<text class="cj" x="992.5" y="574.33" font-size="15" fill="#3a3a3a" textLength="61.7" lengthAdjust="spacing">清洗装置</text>
<text x="978.3" y="596.5" font-size="15.90" fill="#2e2e2e" textLength="91.3" lengthAdjust="spacingAndGlyphs">Washing unit</text>
<text class="cj" x="1123.2" y="573.63" font-size="15" fill="#3a3a3a" textLength="61.8" lengthAdjust="spacing">再生装置</text>
<text x="1106.6" y="591.1" font-size="15.80" fill="#2e2e2e" textLength="94.9" lengthAdjust="spacingAndGlyphs">Regeneration</text>
<text x="1142.1" y="610.6" font-size="15.75" fill="#2e2e2e" textLength="25.4" lengthAdjust="spacingAndGlyphs">unit</text>
<text class="cj" x="1168.5" y="688.75" font-size="14.6" fill="#3a3a3a" textLength="45.2" lengthAdjust="spacing">用水点</text>
<text x="1170.6" y="703.6" font-size="15.55" fill="#2e2e2e" textLength="40.9" lengthAdjust="spacingAndGlyphs">Water</text>
<text x="1146.3" y="720.2" font-size="15.75" fill="#2e2e2e" textLength="89.3" lengthAdjust="spacingAndGlyphs">consumption</text>
<text x="1174.3" y="736.0" font-size="15.73" fill="#2e2e2e" textLength="34.1" lengthAdjust="spacingAndGlyphs">point</text>
<rect x="30.0" y="756.3" width="1194.5" height="48.0" fill="#a2d4f3" />
<rect x="30.0" y="804.3" width="1194.5" height="53.3" fill="#dedcdc" />
<rect x="30" y="756.3" width="1194.5" height="101.3" fill="none" stroke="#4a4e55" stroke-width="1"/>
<path d="M30,804.3 H1224.5 M320.7,756.3 V857.6 M609.5,756.3 V857.6 M910.4,756.3 V857.6" stroke="#4a4e55" stroke-width="1" fill="none"/>
<path d="M50,781.6 H60 M75,781.6 H85" stroke="#777" stroke-width="1"/>
<path d="M60,778.4 L67.5,781.6 L60,784.8000000000001 Z M75,778.4 L67.5,781.6 L75,784.8000000000001 Z" fill="#fff" stroke="#777" stroke-width="0.7"/>
<path d="M50,838.8 H60 M75,838.8 H85" stroke="#777" stroke-width="1"/>
<path d="M60,835.5999999999999 L67.5,838.8 L60,842.0 Z" fill="#fff" stroke="#777" stroke-width="0.7"/><path d="M76,834.8 L66.5,838.8 L76,842.8 Z" fill="#111"/>
<path d="M336.5,781.6 H346.5 M361.5,781.6 H371.5" stroke="#777" stroke-width="1"/>
<path d="M346.5,778.4 L354.0,781.6 L346.5,784.8000000000001 Z M361.5,778.4 L354.0,781.6 L361.5,784.8000000000001 Z" fill="#fff" stroke="#777" stroke-width="0.7"/><path d="M351.5,777.1 Q354.5,776.1 357.0,778.6" fill="none" stroke="#555" stroke-width="0.9"/>
<text class="cs" x="100.7" y="787.5" font-size="18" fill="#2a2f36" stroke="#2a2f36" stroke-width="0.16" textLength="54.2" lengthAdjust="spacing">隔膜阀</text>
<text x="165.5" y="786.8" font-size="15.85" text-anchor="start" fill="#2a2f36">Diaphragm valve</text>
<text class="cs" x="100.7" y="842.2" font-size="18" fill="#2a2f36" stroke="#2a2f36" stroke-width="0.16" textLength="54.2" lengthAdjust="spacing">止回阀</text>
<text x="168.8" y="841.0" font-size="15.85" text-anchor="start" fill="#2a2f36">Check valve</text>
<text class="cs" x="387.0" y="787.5" font-size="18" fill="#2a2f36" stroke="#2a2f36" stroke-width="0.16" textLength="54.2" lengthAdjust="spacing">电磁阀</text>
<text x="452.5" y="786.8" font-size="15.85" text-anchor="start" fill="#2a2f36">Solenoid valve</text>
<circle cx="356.0" cy="835.0" r="11.8" fill="#d9e8ef" stroke="#4a545e" stroke-width="1"/>
<text x="356.0" y="840.2" class="sf" font-size="16" text-anchor="middle" fill="#333c44" textLength="14.4" lengthAdjust="spacingAndGlyphs">PI</text>
<text class="cs" x="387.0" y="841.0" font-size="18" fill="#2a2f36" stroke="#2a2f36" stroke-width="0.16" textLength="54.2" lengthAdjust="spacing">压力表</text>
<text x="452.5" y="840.5" font-size="15.85" text-anchor="start" fill="#2a2f36">Pressure gauge</text>
<rect x="636.6" y="773.0" width="15.1" height="10.2" fill="url(#metal)" />
<rect x="642.4" y="783.0" width="5.0" height="10.0" fill="#111" />
<text class="cs" x="663.5" y="786.5" font-size="18.4" fill="#2a2f36" stroke="#2a2f36" stroke-width="0.16" textLength="74.5" lengthAdjust="spacing">压力开关</text>
<text x="755.8" y="785.0" font-size="15.85" text-anchor="start" fill="#2a2f36">Pressure switch</text>
<circle cx="644.0" cy="833.0" r="10" fill="url(#bp)" stroke="#a89498" stroke-width="0.5"/>
<text class="cs" x="664.0" y="841.0" font-size="18" fill="#2a2f36" stroke="#2a2f36" stroke-width="0.16">排</text>
<text class="cs" x="719.8" y="841.0" font-size="18" fill="#2a2f36" stroke="#2a2f36" stroke-width="0.16">水</text>
<text x="755.0" y="841.0" font-size="15.85" text-anchor="start" fill="#2a2f36">Draining</text>
<circle cx="944.2" cy="784.4" r="12" fill="#d9e8ef" stroke="#4a545e" stroke-width="1"/>
<text x="944.2" y="789.6" class="sf" font-size="16" text-anchor="middle" fill="#333c44" textLength="14.4" lengthAdjust="spacingAndGlyphs">CI</text>
<text class="cs" x="966.5" y="787.0" font-size="18" fill="#2a2f36" stroke="#2a2f36" stroke-width="0.16" textLength="54.2" lengthAdjust="spacing">电导仪</text>
<text x="1036.0" y="787.0" font-size="15.85" text-anchor="start" fill="#2a2f36">Conductivity meter</text>
<rect x="936.0" y="818.0" width="15.0" height="22.7" fill="#0b0b0f" />
<rect x="937.0" y="819.0" width="13.0" height="7.5" fill="#c9ccd2" />
<rect x="938.0" y="821.0" width="11.0" height="2.0" fill="#6a6e78" />
<rect x="941.9" y="828.0" width="3.2" height="8.5" fill="#f2f2f2" />
<text class="cs" x="967.0" y="841.5" font-size="18.2" fill="#2a2f36" stroke="#2a2f36" stroke-width="0.16" textLength="54.8" lengthAdjust="spacing">流量计</text>
<text x="1040.7" y="841.0" font-size="15.85" text-anchor="start" fill="#2a2f36">Flow meter</text>
</svg></body></html>
